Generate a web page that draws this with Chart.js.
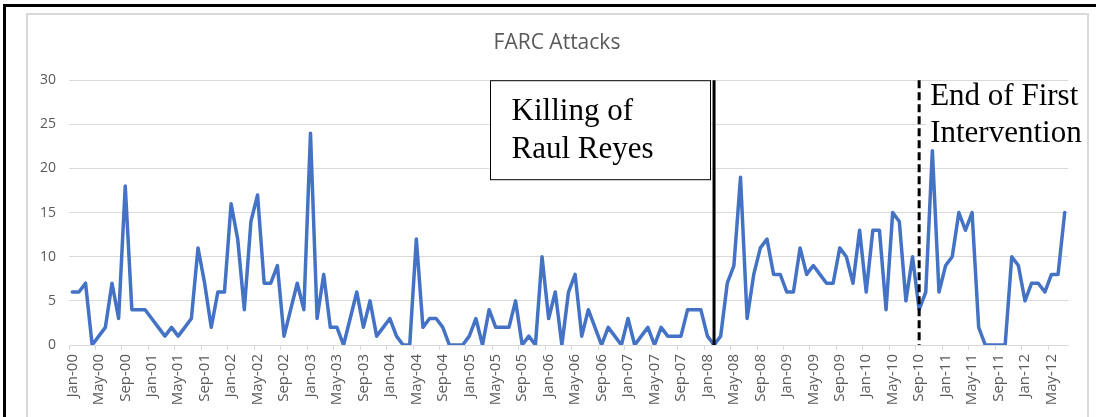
<!DOCTYPE html>
<html>
<head>
<meta charset="utf-8">
<script src="https://cdn.jsdelivr.net/npm/chart.js@4.4.1/dist/chart.umd.min.js"></script>
<style>
  html, body { margin: 0; padding: 0; background: #fff; }
  #wrap { position: relative; width: 1096px; height: 417px; overflow: hidden; }
  .outer { position: absolute; left: 3px; top: 4px; width: 1200px; height: 500px; border-left: 3px solid #000; border-top: 3px solid #000; }
  .inner { position: absolute; left: 26px; top: 13px; width: 1059px; height: 500px; border: 2px solid #d9d9d9; }
  canvas { position: absolute; left: 0; top: 0; }
</style>
</head>
<body>
<div id="wrap">
  <div class="outer"></div>
  <div class="inner"></div>
  <canvas id="farcChart" width="1096" height="417"></canvas>
</div>
<script>
// Category pieces
const monthNames = ['Jan', 'Feb', 'Mar', 'Apr', 'May', 'Jun', 'Jul', 'Aug', 'Sep', 'Oct', 'Nov', 'Dec'];
const years = ['00', '01', '02', '03', '04', '05', '06', '07', '08', '09', '10', '11', '12'];
const lastMonthOfData = 'Jul-12';

// Build month labels Jan-00 ... Jul-12
const months = [];
for (const yr of years) {
    for (const m of monthNames) {
        if (months[months.length - 1] === lastMonthOfData) break;
        months.push(m + '-' + yr);
    }
}

// FARC attacks per month (one row per year)
const attacks = [
    6, 6, 7, 0, 1, 2, 7, 3, 18, 4, 4, 4,      // 2000
    3, 2, 1, 2, 1, 2, 3, 11, 7, 2, 6, 6,      // 2001
    16, 12, 4, 14, 17, 7, 7, 9, 1, 4, 7, 4,   // 2002
    24, 3, 8, 2, 2, 0, 3, 6, 2, 5, 1, 2,      // 2003
    3, 1, 0, 0, 12, 2, 3, 3, 2, 0, 0, 0,      // 2004
    1, 3, 0, 4, 2, 2, 2, 5, 0, 1, 0, 10,      // 2005
    3, 6, 0, 6, 8, 1, 4, 2, 0, 2, 1, 0,       // 2006
    3, 0, 1, 2, 0, 2, 1, 1, 1, 4, 4, 4,       // 2007
    1, 0, 1, 7, 9, 19, 3, 8, 11, 12, 8, 8,    // 2008
    6, 6, 11, 8, 9, 8, 7, 7, 11, 10, 7, 13,   // 2009
    6, 13, 13, 4, 15, 14, 5, 10, 4, 6, 22, 6, // 2010
    9, 10, 15, 13, 15, 2, 0, 0, 0, 0, 10, 9,  // 2011
    5, 7, 7, 6, 8, 8, 15                      // 2012
];

// Events marked on the chart
const eventMonths = ['Feb-08', 'Sep-10'];
const eventLabels = [['Killing of', 'Raul Reyes'], ['End of First', 'Intervention']];

const textColor = '#595959';
const gridColor = '#d9d9d9';

// Draws the two event lines and their labels
const eventLines = {
    id: 'eventLines',
    afterDatasetsDraw(chart) {
        const { ctx, chartArea, scales } = chart;
        const top = chartArea.top;
        const bottom = chartArea.bottom;
        ctx.save();
        ctx.font = '31px "Liberation Serif", "Times New Roman", serif';
        ctx.textBaseline = 'alphabetic';
        ctx.textAlign = 'left';

        // solid line + boxed label
        const x1 = scales.x.getPixelForValue(months.indexOf(eventMonths[0]));
        const boxRight = x1 - 3.5;
        const boxLeft = boxRight - 221;
        ctx.fillStyle = '#fff';
        ctx.fillRect(boxLeft, top, 221, 100);
        ctx.strokeStyle = '#000';
        ctx.lineWidth = 1;
        ctx.strokeRect(Math.round(boxLeft) + 0.5, top + 0.5, 220, 99);
        ctx.fillStyle = '#000';
        ctx.fillText(eventLabels[0][0], boxLeft + 22, top + 40);
        ctx.fillText(eventLabels[0][1], boxLeft + 22, top + 78);

        ctx.beginPath();
        ctx.lineWidth = 3;
        ctx.moveTo(x1, top);
        ctx.lineTo(x1, bottom);
        ctx.stroke();

        // dashed line + plain label
        const x2 = scales.x.getPixelForValue(months.indexOf(eventMonths[1]));
        ctx.beginPath();
        ctx.setLineDash([8, 4]);
        ctx.moveTo(x2, top);
        ctx.lineTo(x2, bottom);
        ctx.stroke();
        ctx.setLineDash([]);

        ctx.fillStyle = '#fff';
        ctx.fillRect(x2 + 7, top + 3, 158, 65);
        ctx.fillStyle = '#000';
        ctx.fillText(eventLabels[1][0], x2 + 11, top + 25);
        ctx.fillText(eventLabels[1][1], x2 + 11, top + 62);
        ctx.restore();
    }
};

const ctx = document.getElementById('farcChart').getContext('2d');
const farcChart = new Chart(ctx, {
    type: 'line',
    data: {
        labels: months,
        datasets: [{
            label: 'FARC Attacks',
            data: attacks,
            borderColor: '#4472C4',
            borderWidth: 3.5,
            pointRadius: 0,
            tension: 0,
            borderJoinStyle: 'round',
            borderCapStyle: 'round',
            fill: false
        }]
    },
    options: {
        responsive: false,
        animation: false,
        events: [],
        layout: { padding: { left: 26, right: 8, top: 0, bottom: 0 } },
        plugins: {
            legend: { display: false },
            tooltip: { enabled: false },
            title: {
                display: true,
                text: 'FARC Attacks',
                color: textColor,
                font: { family: 'Open Sans', size: 21, weight: 'normal', lineHeight: 1.2 },
                padding: { top: 30, bottom: 25 }
            }
        },
        scales: {
            x: {
                offset: true,
                grid: {
                    offset: true,
                    drawOnChartArea: false,
                    drawTicks: true,
                    tickLength: 5,
                    color: c => (c.index % 4 === 0 ? gridColor : 'rgba(0,0,0,0)')
                },
                border: { display: true, color: gridColor, width: 1 },
                ticks: {
                    autoSkip: false,
                    maxRotation: 90,
                    minRotation: 90,
                    padding: 4,
                    color: textColor,
                    font: { family: 'Open Sans', size: 15 },
                    callback: (v, i) => (i % 4 === 0 ? months[i] : '')
                },
                afterFit: s => { s.height = 72; }
            },
            y: {
                min: 0,
                max: 30,
                ticks: {
                    stepSize: 5,
                    padding: 13,
                    color: textColor,
                    font: { family: 'Open Sans', size: 14 }
                },
                grid: { color: gridColor, drawTicks: false },
                border: { display: false },
                afterFit: s => { s.width = 43; }
            },
            // empty right-hand strip so the plot ends where the reference's does
            yRight: {
                position: 'right',
                display: true,
                min: 0,
                max: 30,
                grid: { display: false, drawOnChartArea: false },
                border: { display: false },
                ticks: { display: false },
                afterFit: s => { s.width = 20; }
            }
        }
    },
    plugins: [eventLines]
});
</script>
</body>
</html>
